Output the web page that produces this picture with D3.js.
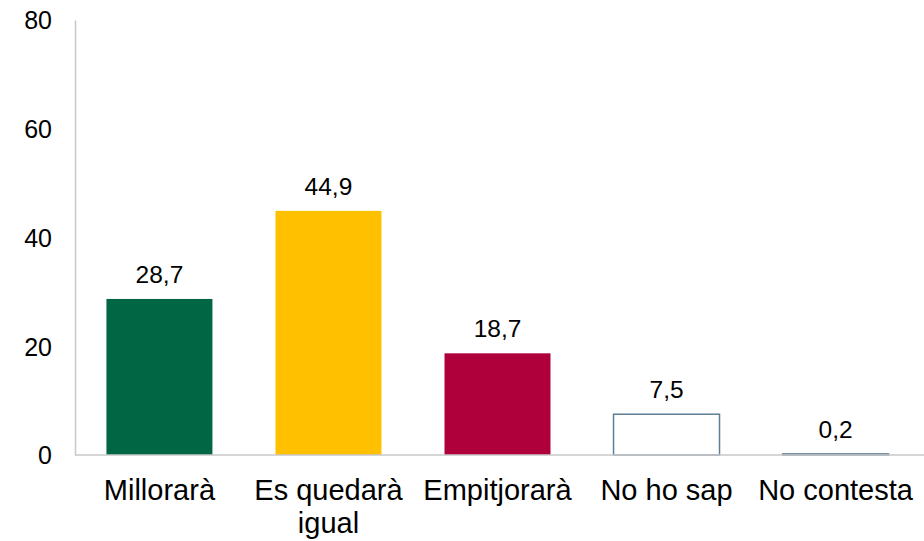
<!DOCTYPE html>
<html>
<head>
<meta charset="utf-8">
<script src="https://cdn.jsdelivr.net/npm/d3@7"></script>
<style>
    body { margin: 0; background: #fff; }
    text { font-family: "Liberation Sans", Arial, sans-serif; fill: #000; }
</style>
</head>
<body>
<div id="chart"></div>
<script>
    // data
    var categories = ["Millorarà", "Es quedarà igual", "Empitjorarà", "No ho sap", "No contesta"];
    var values = [28.7, 44.9, 18.7, 7.5, 0.2];
    var valueLabels = ["28,7", "44,9", "18,7", "7,5", "0,2"];
    var fills = ["#006644", "#FFC000", "#B0003C", "#FFFFFF", "#FFFFFF"];
    var yTicks = [0, 20, 40, 60, 80];

    var width = 924, height = 541;
    var margin = { top: 20, right: 4, bottom: 86, left: 75 };

    var svg = d3.select("#chart").append("svg")
        .attr("width", width)
        .attr("height", height);

    var x = d3.scaleBand()
        .domain(categories)
        .range([margin.left, width - margin.right])
        .paddingInner(0.373)
        .paddingOuter(0.186);

    var y = d3.scaleLinear()
        .domain([0, 80])
        .range([height - margin.bottom, margin.top]);

    // y axis
    var yAxis = svg.append("g")
        .attr("transform", "translate(" + margin.left + ",0)")
        .call(d3.axisLeft(y).tickValues(yTicks).tickSize(0).tickPadding(23));
    yAxis.select(".domain").attr("stroke", "#c8c8c8").attr("stroke-width", 1.5);
    yAxis.selectAll("text").style("font-size", "25px").attr("dy", "0.35em");

    // bars
    svg.selectAll("rect.bar")
        .data(categories)
        .enter().append("rect")
        .attr("class", "bar")
        .attr("x", function (d) { return x(d); })
        .attr("y", function (d, i) { return y(values[i]); })
        .attr("width", x.bandwidth())
        .attr("height", function (d, i) { return y(0) - y(values[i]); })
        .attr("fill", function (d, i) { return fills[i]; })
        .attr("stroke", function (d, i) { return fills[i] == "#FFFFFF" ? "#5F7F95" : "none"; })
        .attr("stroke-width", 1.5);

    // baseline
    svg.append("line")
        .attr("x1", margin.left)
        .attr("x2", width)
        .attr("y1", y(0))
        .attr("y2", y(0))
        .attr("stroke", "#c8c8c8")
        .attr("stroke-width", 1.5);

    // value labels
    svg.selectAll("text.val")
        .data(categories)
        .enter().append("text")
        .attr("class", "val")
        .attr("x", function (d) { return x(d) + x.bandwidth() / 2; })
        .attr("y", function (d, i) { return y(values[i]) - 16; })
        .attr("text-anchor", "middle")
        .style("font-size", "24.5px")
        .text(function (d, i) { return valueLabels[i]; });

    // category labels, wrapped like the original
    var catLines = {
        "Es quedarà igual": ["Es quedarà", "igual"]
    };
    var cat = svg.selectAll("text.cat")
        .data(categories)
        .enter().append("text")
        .attr("class", "cat")
        .attr("x", function (d) { return x(d) + x.bandwidth() / 2; })
        .attr("y", 500)
        .attr("text-anchor", "middle")
        .style("font-size", "29px");
    cat.each(function (d) {
        var lines = catLines[d] || [d];
        var t = d3.select(this);
        lines.forEach(function (l, j) {
            t.append("tspan")
                .attr("x", x(d) + x.bandwidth() / 2)
                .attr("dy", j == 0 ? 0 : 32.5)
                .text(l);
        });
    });
</script>
</body>
</html>
